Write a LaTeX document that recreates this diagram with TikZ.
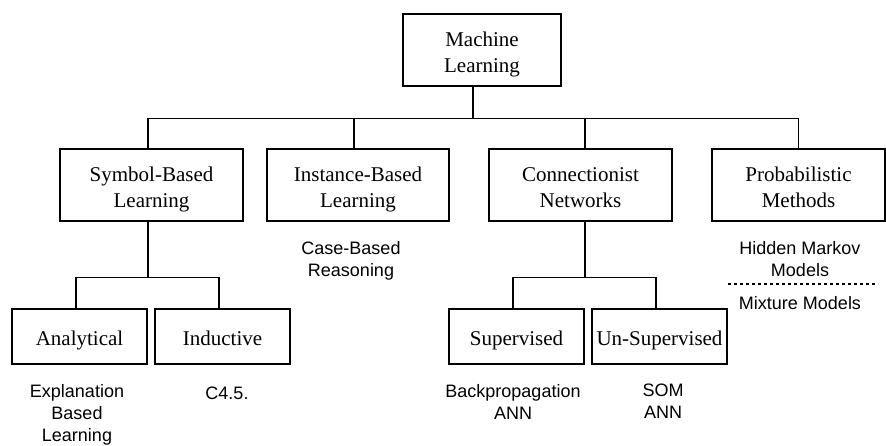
\documentclass[tikz,border=0pt]{standalone}
\usepackage{fontspec}
\setmainfont{Liberation Serif}
\setsansfont{Liberation Sans}
\usetikzlibrary{positioning}
\tikzset{Box style/.style={draw=black, line width=1.1pt, rectangle, align=center, inner sep=0pt, font=\fontsize{21}{26}\selectfont}}
\tikzset{Two lines/.style={text height=44pt, text depth=0pt}}
\tikzset{Group style/.style={Box style, Two lines, minimum width=183pt, minimum height=72pt}}
\tikzset{Leaf style/.style={Box style, minimum width=135pt, minimum height=55pt, text height=21pt, text depth=4pt}}
\tikzset{Label style/.style={align=center, inner sep=0pt, anchor=north, font=\sffamily\fontsize{18}{22}\selectfont,
	execute at begin node={\rule{0pt}{15pt}}, execute at end node={\rule[-5pt]{0pt}{5pt}}}}
\tikzset{
	branch/.style={line width=1.1pt}, % ramas normales
	trunk/.style={line width=2.4pt}, % tronco principal
	separator/.style={line width=2pt, dash pattern=on 2.5pt off 3.5pt},
	x=1pt, y=-1pt, % coordenadas en pixeles, y hacia abajo
}

\begin{document}
\begin{tikzpicture}
        \useasboundingbox (0,0) rectangle (886,445);

        % raiz
        \node[Box style, Two lines, minimum width=158pt, minimum height=72pt] (machine) at (482,50) {Machine\\Learning};

        % segundo nivel
        \node[Group style] (symbol) at (151.5,185) {Symbol-Based\\Learning};
        \node[Group style, minimum width=182pt] (instance) at (358,185) {Instance-Based\\Learning};
        \node[Group style] (connect) at (580.5,185) {Connectionist\\Networks};
        \node[Group style, minimum width=173pt] (prob) at (798.5,185) {Probabilistic\\Methods};

        % tercer nivel
        \node[Leaf style] (analytical) at (79.5,336.5) {Analytical};
        \node[Leaf style] (inductive) at (222.5,336.5) {Inductive};
        \node[Leaf style] (supervised) at (516.5,336.5) {Supervised};
        \node[Leaf style] (unsupervised) at (659.5,336.5) {Un-Supervised};

        % ejemplos
        \node[Label style] (case) at (351,241) {Case-Based\\Reasoning};
        \node[Label style] (hmm) at (800,241) {Hidden Markov\\Models};
        \node[Label style] (mixture) at (800,294) {Mixture Models};
        \node[Label style] (explanation) at (77,384) {Explanation\\Based\\Learning};
        \node[Label style] (c45) at (227,384) {C4.5.};
        \node[Label style] (backprop) at (513,384) {Backpropagation\\ANN};
        \node[Label style] (som) at (663,384) {SOM\\ANN};

        \coordinate (sep_left) at (728,284);
        \coordinate (sep_right) at (878,284);
        \draw[separator] (sep_left) -- (sep_right);

        % conexiones
        \draw[trunk] ([xshift=-9pt]machine.south) -- ++(0,32) coordinate (bus);
        \draw[branch] ([xshift=-3.5pt]symbol.north) |- (bus) -| (prob.north);
        \draw[branch] ([xshift=-4pt]instance.north) |- (bus);
        \draw[branch] ([xshift=4.5pt]connect.north) |- (bus);

        \draw[branch] ([xshift=-3.5pt]symbol.south) -- ++(0,56) coordinate (symbol_fork);
        \draw[branch] ([xshift=-3.5pt]analytical.north) |- (symbol_fork) -| ([xshift=-3.5pt]inductive.north);

        \draw[branch] ([xshift=4.5pt]connect.south) -- ++(0,56) coordinate (connect_fork);
        \draw[branch] ([xshift=-3.5pt]supervised.north) |- (connect_fork) -| ([xshift=-3.5pt]unsupervised.north);
\end{tikzpicture}
\end{document}
